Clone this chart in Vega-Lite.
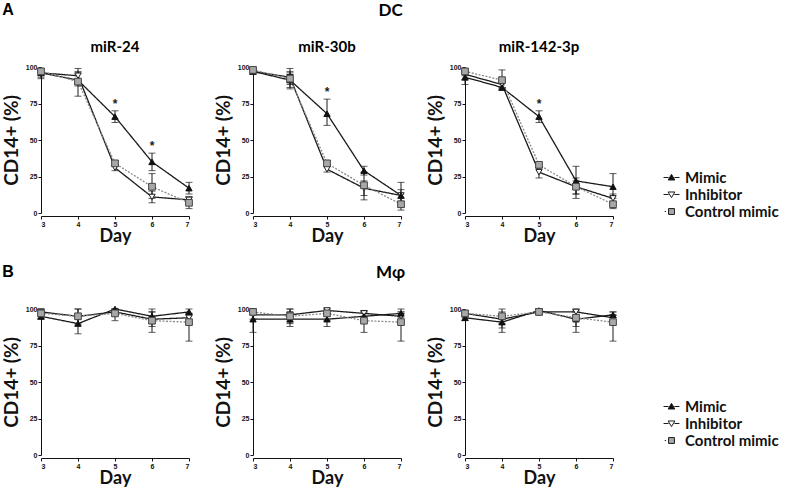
{
  "$schema": "https://vega.github.io/schema/vega-lite/v6.json",
  "padding": {"left": 2, "top": 2, "right": 0, "bottom": 0},
  "datasets": {
    "d": [
      {"cell":"DC","mir":"miR-24","series":"Mimic","day":3,"v":96,"lo":93,"hi":99,"sig":false},
      {"cell":"DC","mir":"miR-24","series":"Mimic","day":4,"v":91,"lo":87,"hi":97,"sig":false},
      {"cell":"DC","mir":"miR-24","series":"Mimic","day":5,"v":66,"lo":62,"hi":70,"sig":true},
      {"cell":"DC","mir":"miR-24","series":"Mimic","day":6,"v":35,"lo":29,"hi":41,"sig":true},
      {"cell":"DC","mir":"miR-24","series":"Mimic","day":7,"v":17,"lo":13,"hi":21,"sig":false},
      {"cell":"DC","mir":"miR-24","series":"Inhibitor","day":3,"v":96,"lo":92,"hi":99,"sig":false},
      {"cell":"DC","mir":"miR-24","series":"Inhibitor","day":4,"v":94,"lo":88,"hi":99,"sig":false},
      {"cell":"DC","mir":"miR-24","series":"Inhibitor","day":5,"v":31,"lo":29,"hi":33,"sig":false},
      {"cell":"DC","mir":"miR-24","series":"Inhibitor","day":6,"v":11,"lo":7,"hi":15,"sig":false},
      {"cell":"DC","mir":"miR-24","series":"Inhibitor","day":7,"v":9,"lo":7,"hi":11,"sig":false},
      {"cell":"DC","mir":"miR-24","series":"Control mimic","day":3,"v":97,"lo":94,"hi":99,"sig":false},
      {"cell":"DC","mir":"miR-24","series":"Control mimic","day":4,"v":90,"lo":80,"hi":96,"sig":false},
      {"cell":"DC","mir":"miR-24","series":"Control mimic","day":5,"v":34,"lo":32,"hi":36,"sig":false},
      {"cell":"DC","mir":"miR-24","series":"Control mimic","day":6,"v":18,"lo":10,"hi":27,"sig":false},
      {"cell":"DC","mir":"miR-24","series":"Control mimic","day":7,"v":7,"lo":3,"hi":11,"sig":false},

      {"cell":"DC","mir":"miR-30b","series":"Mimic","day":3,"v":97,"lo":95,"hi":99,"sig":false},
      {"cell":"DC","mir":"miR-30b","series":"Mimic","day":4,"v":91,"lo":86,"hi":96,"sig":false},
      {"cell":"DC","mir":"miR-30b","series":"Mimic","day":5,"v":68,"lo":60,"hi":78,"sig":true},
      {"cell":"DC","mir":"miR-30b","series":"Mimic","day":6,"v":29,"lo":26,"hi":32,"sig":false},
      {"cell":"DC","mir":"miR-30b","series":"Mimic","day":7,"v":12,"lo":4,"hi":21,"sig":false},
      {"cell":"DC","mir":"miR-30b","series":"Inhibitor","day":3,"v":97,"lo":95,"hi":99,"sig":false},
      {"cell":"DC","mir":"miR-30b","series":"Inhibitor","day":4,"v":93,"lo":88,"hi":99,"sig":false},
      {"cell":"DC","mir":"miR-30b","series":"Inhibitor","day":5,"v":30,"lo":28,"hi":32,"sig":false},
      {"cell":"DC","mir":"miR-30b","series":"Inhibitor","day":6,"v":17,"lo":12,"hi":22,"sig":false},
      {"cell":"DC","mir":"miR-30b","series":"Inhibitor","day":7,"v":12,"lo":8,"hi":16,"sig":false},
      {"cell":"DC","mir":"miR-30b","series":"Control mimic","day":3,"v":98,"lo":96,"hi":100,"sig":false},
      {"cell":"DC","mir":"miR-30b","series":"Control mimic","day":4,"v":92,"lo":85,"hi":97,"sig":false},
      {"cell":"DC","mir":"miR-30b","series":"Control mimic","day":5,"v":34,"lo":32,"hi":36,"sig":false},
      {"cell":"DC","mir":"miR-30b","series":"Control mimic","day":6,"v":19,"lo":9,"hi":28,"sig":false},
      {"cell":"DC","mir":"miR-30b","series":"Control mimic","day":7,"v":6,"lo":2,"hi":10,"sig":false},

      {"cell":"DC","mir":"miR-142-3p","series":"Mimic","day":3,"v":93,"lo":88,"hi":97,"sig":false},
      {"cell":"DC","mir":"miR-142-3p","series":"Mimic","day":4,"v":86,"lo":84,"hi":89,"sig":false},
      {"cell":"DC","mir":"miR-142-3p","series":"Mimic","day":5,"v":66,"lo":62,"hi":70,"sig":true},
      {"cell":"DC","mir":"miR-142-3p","series":"Mimic","day":6,"v":22,"lo":13,"hi":32,"sig":false},
      {"cell":"DC","mir":"miR-142-3p","series":"Mimic","day":7,"v":18,"lo":8,"hi":27,"sig":false},
      {"cell":"DC","mir":"miR-142-3p","series":"Inhibitor","day":3,"v":95,"lo":91,"hi":98,"sig":false},
      {"cell":"DC","mir":"miR-142-3p","series":"Inhibitor","day":4,"v":88,"lo":86,"hi":91,"sig":false},
      {"cell":"DC","mir":"miR-142-3p","series":"Inhibitor","day":5,"v":28,"lo":24,"hi":31,"sig":false},
      {"cell":"DC","mir":"miR-142-3p","series":"Inhibitor","day":6,"v":18,"lo":13,"hi":22,"sig":false},
      {"cell":"DC","mir":"miR-142-3p","series":"Inhibitor","day":7,"v":10,"lo":7,"hi":13,"sig":false},
      {"cell":"DC","mir":"miR-142-3p","series":"Control mimic","day":3,"v":97,"lo":94,"hi":99,"sig":false},
      {"cell":"DC","mir":"miR-142-3p","series":"Control mimic","day":4,"v":91,"lo":85,"hi":98,"sig":false},
      {"cell":"DC","mir":"miR-142-3p","series":"Control mimic","day":5,"v":33,"lo":31,"hi":35,"sig":false},
      {"cell":"DC","mir":"miR-142-3p","series":"Control mimic","day":6,"v":18,"lo":10,"hi":24,"sig":false},
      {"cell":"DC","mir":"miR-142-3p","series":"Control mimic","day":7,"v":6,"lo":3,"hi":10,"sig":false},

      {"cell":"Mφ","mir":"miR-24","series":"Mimic","day":3,"v":95,"lo":93,"hi":98,"sig":false},
      {"cell":"Mφ","mir":"miR-24","series":"Mimic","day":4,"v":90,"lo":83,"hi":96,"sig":false},
      {"cell":"Mφ","mir":"miR-24","series":"Mimic","day":5,"v":100,"lo":98,"hi":100,"sig":false},
      {"cell":"Mφ","mir":"miR-24","series":"Mimic","day":6,"v":95,"lo":90,"hi":100,"sig":false},
      {"cell":"Mφ","mir":"miR-24","series":"Mimic","day":7,"v":98,"lo":96,"hi":100,"sig":false},
      {"cell":"Mφ","mir":"miR-24","series":"Inhibitor","day":3,"v":98,"lo":96,"hi":100,"sig":false},
      {"cell":"Mφ","mir":"miR-24","series":"Inhibitor","day":4,"v":95,"lo":90,"hi":100,"sig":false},
      {"cell":"Mφ","mir":"miR-24","series":"Inhibitor","day":5,"v":98,"lo":96,"hi":100,"sig":false},
      {"cell":"Mφ","mir":"miR-24","series":"Inhibitor","day":6,"v":93,"lo":88,"hi":98,"sig":false},
      {"cell":"Mφ","mir":"miR-24","series":"Inhibitor","day":7,"v":94,"lo":90,"hi":97,"sig":false},
      {"cell":"Mφ","mir":"miR-24","series":"Control mimic","day":3,"v":97,"lo":93,"hi":100,"sig":false},
      {"cell":"Mφ","mir":"miR-24","series":"Control mimic","day":4,"v":95,"lo":89,"hi":100,"sig":false},
      {"cell":"Mφ","mir":"miR-24","series":"Control mimic","day":5,"v":97,"lo":92,"hi":100,"sig":false},
      {"cell":"Mφ","mir":"miR-24","series":"Control mimic","day":6,"v":92,"lo":84,"hi":98,"sig":false},
      {"cell":"Mφ","mir":"miR-24","series":"Control mimic","day":7,"v":91,"lo":78,"hi":97,"sig":false},

      {"cell":"Mφ","mir":"miR-30b","series":"Mimic","day":3,"v":93,"lo":84,"hi":100,"sig":false},
      {"cell":"Mφ","mir":"miR-30b","series":"Mimic","day":4,"v":93,"lo":88,"hi":98,"sig":false},
      {"cell":"Mφ","mir":"miR-30b","series":"Mimic","day":5,"v":93,"lo":88,"hi":97,"sig":false},
      {"cell":"Mφ","mir":"miR-30b","series":"Mimic","day":6,"v":95,"lo":92,"hi":98,"sig":false},
      {"cell":"Mφ","mir":"miR-30b","series":"Mimic","day":7,"v":97,"lo":94,"hi":100,"sig":false},
      {"cell":"Mφ","mir":"miR-30b","series":"Inhibitor","day":3,"v":96,"lo":93,"hi":99,"sig":false},
      {"cell":"Mφ","mir":"miR-30b","series":"Inhibitor","day":4,"v":96,"lo":91,"hi":100,"sig":false},
      {"cell":"Mφ","mir":"miR-30b","series":"Inhibitor","day":5,"v":99,"lo":97,"hi":100,"sig":false},
      {"cell":"Mφ","mir":"miR-30b","series":"Inhibitor","day":6,"v":97,"lo":95,"hi":99,"sig":false},
      {"cell":"Mφ","mir":"miR-30b","series":"Inhibitor","day":7,"v":95,"lo":92,"hi":98,"sig":false},
      {"cell":"Mφ","mir":"miR-30b","series":"Control mimic","day":3,"v":98,"lo":96,"hi":100,"sig":false},
      {"cell":"Mφ","mir":"miR-30b","series":"Control mimic","day":4,"v":95,"lo":90,"hi":100,"sig":false},
      {"cell":"Mφ","mir":"miR-30b","series":"Control mimic","day":5,"v":97,"lo":92,"hi":100,"sig":false},
      {"cell":"Mφ","mir":"miR-30b","series":"Control mimic","day":6,"v":92,"lo":84,"hi":98,"sig":false},
      {"cell":"Mφ","mir":"miR-30b","series":"Control mimic","day":7,"v":91,"lo":78,"hi":98,"sig":false},

      {"cell":"Mφ","mir":"miR-142-3p","series":"Mimic","day":3,"v":94,"lo":92,"hi":97,"sig":false},
      {"cell":"Mφ","mir":"miR-142-3p","series":"Mimic","day":4,"v":91,"lo":84,"hi":95,"sig":false},
      {"cell":"Mφ","mir":"miR-142-3p","series":"Mimic","day":5,"v":99,"lo":97,"hi":100,"sig":false},
      {"cell":"Mφ","mir":"miR-142-3p","series":"Mimic","day":6,"v":93,"lo":88,"hi":98,"sig":false},
      {"cell":"Mφ","mir":"miR-142-3p","series":"Mimic","day":7,"v":96,"lo":94,"hi":98,"sig":false},
      {"cell":"Mφ","mir":"miR-142-3p","series":"Inhibitor","day":3,"v":97,"lo":95,"hi":99,"sig":false},
      {"cell":"Mφ","mir":"miR-142-3p","series":"Inhibitor","day":4,"v":93,"lo":87,"hi":98,"sig":false},
      {"cell":"Mφ","mir":"miR-142-3p","series":"Inhibitor","day":5,"v":98,"lo":96,"hi":100,"sig":false},
      {"cell":"Mφ","mir":"miR-142-3p","series":"Inhibitor","day":6,"v":98,"lo":96,"hi":100,"sig":false},
      {"cell":"Mφ","mir":"miR-142-3p","series":"Inhibitor","day":7,"v":94,"lo":92,"hi":96,"sig":false},
      {"cell":"Mφ","mir":"miR-142-3p","series":"Control mimic","day":3,"v":97,"lo":94,"hi":99,"sig":false},
      {"cell":"Mφ","mir":"miR-142-3p","series":"Control mimic","day":4,"v":95,"lo":90,"hi":100,"sig":false},
      {"cell":"Mφ","mir":"miR-142-3p","series":"Control mimic","day":5,"v":98,"lo":96,"hi":100,"sig":false},
      {"cell":"Mφ","mir":"miR-142-3p","series":"Control mimic","day":6,"v":94,"lo":84,"hi":99,"sig":false},
      {"cell":"Mφ","mir":"miR-142-3p","series":"Control mimic","day":7,"v":91,"lo":78,"hi":98,"sig":false}
    ]
  },
  "spacing": 19,
  "resolve": {"scale": {"shape": "independent", "fill": "independent", "color": "independent", "strokeDash": "independent"}, "legend": {"shape": "independent", "fill": "independent"}},
  "vconcat": [
    {
      "title": {"text": "A", "anchor": "start", "frame": "bounds", "font": "Liberation Sans", "fontSize": 16, "fontWeight": "bold", "offset": -16},
      "resolve": {"scale": {"shape": "independent", "fill": "independent", "color": "independent", "strokeDash": "independent"}, "legend": {"shape": "independent", "fill": "independent"}},
      "vconcat": [
        {
          "title": {"text": "DC", "anchor": "middle", "font": "Lato", "fontSize": 17, "fontWeight": "bold", "offset": 20},
          "data": {"name": "d"},
          "transform": [{"filter": "datum.cell == 'DC'"}],
          "facet": {"column": {"field": "mir", "type": "nominal", "sort": ["miR-24", "miR-30b", "miR-142-3p"],
            "header": {"title": null, "labelFont": "Lato", "labelFontSize": 15, "labelFontWeight": "bold", "labelColor": "black", "labelPadding": 8}}},
          "spacing": {"column": 19},
          "resolve": {"axis": {"y": "independent"}},
          "spec": {
            "width": 148, "height": 146,
            "layer": [
              {"mark": {"type": "line", "strokeWidth": 1.3},
               "encoding": {
                 "x": {"field": "day", "type": "quantitative", "scale": {"domain": [3, 7], "nice": false}, "axis": {"title": "Day", "values": [3,4,5,6,7], "tickCount": 5, "format": "d"}},
                 "y": {"field": "v", "type": "quantitative", "scale": {"domain": [0, 100], "nice": false}, "axis": {"title": "CD14+ (%)", "values": [0,25,50,75,100], "tickCount": 5}},
                 "detail": {"field": "series", "type": "nominal"},
                 "color": {"field": "series", "type": "nominal", "scale": {"domain": ["Control mimic","Inhibitor","Mimic"], "range": ["#8a8a8a","#1a1a1a","#1a1a1a"]}, "legend": null},
                 "strokeDash": {"field": "series", "type": "nominal", "scale": {"domain": ["Control mimic","Inhibitor","Mimic"], "range": [[2,1.5],[1,0],[1,0]]}, "legend": null}
               }},
              {"mark": {"type": "rule", "color": "#1a1a1a", "strokeWidth": 1},
               "encoding": {"x": {"field": "day", "type": "quantitative"}, "y": {"field": "lo", "type": "quantitative"}, "y2": {"field": "hi"}}},
              {"mark": {"type": "tick", "orient": "horizontal", "size": 7, "thickness": 1, "color": "#1a1a1a"},
               "encoding": {"x": {"field": "day", "type": "quantitative"}, "y": {"field": "lo", "type": "quantitative"}}},
              {"mark": {"type": "tick", "orient": "horizontal", "size": 7, "thickness": 1, "color": "#1a1a1a"},
               "encoding": {"x": {"field": "day", "type": "quantitative"}, "y": {"field": "hi", "type": "quantitative"}}},
              {"transform": [{"filter": "datum.series == 'Inhibitor'"}],
               "mark": {"type": "point", "shape": "triangle-down", "filled": true, "fill": "white", "stroke": "#1a1a1a", "strokeWidth": 1, "size": 40, "opacity": 1},
               "encoding": {"x": {"field": "day", "type": "quantitative"}, "y": {"field": "v", "type": "quantitative"}}},
              {"transform": [{"filter": "datum.series == 'Mimic'"}],
               "mark": {"type": "point", "shape": "triangle-up", "filled": true, "fill": "#111", "stroke": "#111", "strokeWidth": 1, "size": 40, "opacity": 1},
               "encoding": {"x": {"field": "day", "type": "quantitative"}, "y": {"field": "v", "type": "quantitative"}}},
              {"transform": [{"filter": "datum.series == 'Control mimic'"}],
               "mark": {"type": "point", "shape": "square", "filled": true, "fill": "#a8a8a8", "stroke": "#444", "strokeWidth": 1, "size": 45, "opacity": 1},
               "encoding": {"x": {"field": "day", "type": "quantitative"}, "y": {"field": "v", "type": "quantitative"}}},
              {"transform": [{"filter": "datum.sig"}],
               "mark": {"type": "text", "text": "*", "dy": -7, "fontSize": 12, "font": "Liberation Sans", "fontWeight": "bold", "color": "#1a1a1a"},
               "encoding": {"x": {"field": "day", "type": "quantitative"}, "y": {"field": "hi", "type": "quantitative"}}},
              {"mark": {"type": "point", "filled": true, "stroke": "#1a1a1a", "strokeWidth": 1, "opacity": 0},
               "encoding": {
                 "x": {"field": "day", "type": "quantitative"}, "y": {"field": "v", "type": "quantitative"},
                 "shape": {"field": "series", "type": "nominal", "scale": {"domain": ["Mimic","Inhibitor","Control mimic"], "range": ["M-1.9,0H-0.7M0.7,0H1.9M0,-0.75L0.8,0.6H-0.8Z", "M-1.9,0H-0.7M0.7,0H1.9M0,0.75L0.8,-0.6H-0.8Z", "M-1.6,0H-1.3M-0.7,-0.7H0.7V0.7H-0.7Z"]},
                   "legend": {"title": " ", "titleFontSize": 2, "titlePadding": 101, "orient": "right", "offset": 45, "symbolOpacity": 1,
                     "encode": {"symbols": {"update": {"stroke": {"value": "#1a1a1a"}, "strokeWidth": {"value": 1}, "opacity": {"value": 1}}}}}},
                 "fill": {"field": "series", "type": "nominal", "scale": {"domain": ["Mimic","Inhibitor","Control mimic"], "range": ["#111","#ffffff","#a8a8a8"]},
                   "legend": {"title": " ", "titleFontSize": 2, "titlePadding": 101, "orient": "right", "offset": 45, "symbolOpacity": 1,
                     "encode": {"symbols": {"update": {"stroke": {"value": "#1a1a1a"}, "strokeWidth": {"value": 1}, "opacity": {"value": 1}}}}}}
               }}
            ]
          }
        }
      ]
    },
    {
      "title": {"text": "B", "anchor": "start", "frame": "bounds", "font": "Liberation Sans", "fontSize": 16, "fontWeight": "bold", "offset": -16},
      "resolve": {"scale": {"shape": "independent", "fill": "independent", "color": "independent", "strokeDash": "independent"}, "legend": {"shape": "independent", "fill": "independent"}},
      "vconcat": [
        {
          "title": {"text": "Mφ", "anchor": "middle", "font": "Lato", "fontSize": 17, "fontWeight": "bold", "offset": 22},
          "data": {"name": "d"},
          "transform": [{"filter": "datum.cell == 'Mφ'"}],
          "facet": {"column": {"field": "mir", "type": "nominal", "sort": ["miR-24", "miR-30b", "miR-142-3p"],
            "header": {"title": null, "labels": false}}},
          "spacing": {"column": 19},
          "resolve": {"axis": {"y": "independent"}},
          "spec": {
            "width": 148, "height": 146,
            "layer": [
              {"mark": {"type": "line", "strokeWidth": 1.3},
               "encoding": {
                 "x": {"field": "day", "type": "quantitative", "scale": {"domain": [3, 7], "nice": false}, "axis": {"title": "Day", "values": [3,4,5,6,7], "tickCount": 5, "format": "d"}},
                 "y": {"field": "v", "type": "quantitative", "scale": {"domain": [0, 100], "nice": false}, "axis": {"title": "CD14+ (%)", "values": [0,25,50,75,100], "tickCount": 5}},
                 "detail": {"field": "series", "type": "nominal"},
                 "color": {"field": "series", "type": "nominal", "scale": {"domain": ["Control mimic","Inhibitor","Mimic"], "range": ["#8a8a8a","#1a1a1a","#1a1a1a"]}, "legend": null},
                 "strokeDash": {"field": "series", "type": "nominal", "scale": {"domain": ["Control mimic","Inhibitor","Mimic"], "range": [[2,1.5],[1,0],[1,0]]}, "legend": null}
               }},
              {"mark": {"type": "rule", "color": "#1a1a1a", "strokeWidth": 1},
               "encoding": {"x": {"field": "day", "type": "quantitative"}, "y": {"field": "lo", "type": "quantitative"}, "y2": {"field": "hi"}}},
              {"mark": {"type": "tick", "orient": "horizontal", "size": 7, "thickness": 1, "color": "#1a1a1a"},
               "encoding": {"x": {"field": "day", "type": "quantitative"}, "y": {"field": "lo", "type": "quantitative"}}},
              {"mark": {"type": "tick", "orient": "horizontal", "size": 7, "thickness": 1, "color": "#1a1a1a"},
               "encoding": {"x": {"field": "day", "type": "quantitative"}, "y": {"field": "hi", "type": "quantitative"}}},
              {"transform": [{"filter": "datum.series == 'Inhibitor'"}],
               "mark": {"type": "point", "shape": "triangle-down", "filled": true, "fill": "white", "stroke": "#1a1a1a", "strokeWidth": 1, "size": 40, "opacity": 1},
               "encoding": {"x": {"field": "day", "type": "quantitative"}, "y": {"field": "v", "type": "quantitative"}}},
              {"transform": [{"filter": "datum.series == 'Mimic'"}],
               "mark": {"type": "point", "shape": "triangle-up", "filled": true, "fill": "#111", "stroke": "#111", "strokeWidth": 1, "size": 40, "opacity": 1},
               "encoding": {"x": {"field": "day", "type": "quantitative"}, "y": {"field": "v", "type": "quantitative"}}},
              {"transform": [{"filter": "datum.series == 'Control mimic'"}],
               "mark": {"type": "point", "shape": "square", "filled": true, "fill": "#a8a8a8", "stroke": "#444", "strokeWidth": 1, "size": 45, "opacity": 1},
               "encoding": {"x": {"field": "day", "type": "quantitative"}, "y": {"field": "v", "type": "quantitative"}}},
              {"mark": {"type": "point", "filled": true, "stroke": "#1a1a1a", "strokeWidth": 1, "opacity": 0},
               "encoding": {
                 "x": {"field": "day", "type": "quantitative"}, "y": {"field": "v", "type": "quantitative"},
                 "shape": {"field": "series", "type": "nominal", "scale": {"domain": ["Mimic","Inhibitor","Control mimic"], "range": ["M-1.9,0H-0.7M0.7,0H1.9M0,-0.75L0.8,0.6H-0.8Z", "M-1.9,0H-0.7M0.7,0H1.9M0,0.75L0.8,-0.6H-0.8Z", "M-1.6,0H-1.3M-0.7,-0.7H0.7V0.7H-0.7Z"]},
                   "legend": {"title": " ", "titleFontSize": 2, "titlePadding": 88, "orient": "right", "offset": 45, "symbolOpacity": 1,
                     "encode": {"symbols": {"update": {"stroke": {"value": "#1a1a1a"}, "strokeWidth": {"value": 1}, "opacity": {"value": 1}}}}}},
                 "fill": {"field": "series", "type": "nominal", "scale": {"domain": ["Mimic","Inhibitor","Control mimic"], "range": ["#111","#ffffff","#a8a8a8"]},
                   "legend": {"title": " ", "titleFontSize": 2, "titlePadding": 88, "orient": "right", "offset": 45, "symbolOpacity": 1,
                     "encode": {"symbols": {"update": {"stroke": {"value": "#1a1a1a"}, "strokeWidth": {"value": 1}, "opacity": {"value": 1}}}}}}
               }}
            ]
          }
        }
      ]
    }
  ],
  "config": {
    "view": {"stroke": null},
    "axis": {"grid": false, "domainColor": "#111", "tickColor": "#111", "tickSize": 3, "labelFont": "Liberation Sans", "labelFontSize": 7, "labelFontWeight": "bold", "labelColor": "#111", "labelPadding": 1, "labelOverlap": false, "labelBound": false, "titleFont": "Lato", "titleFontSize": 18, "titleFontWeight": "bold", "titleColor": "#111"},
    "axisX": {"titlePadding": 0},
    "axisY": {"titlePadding": 4, "titleFontSize": 19},
    "legend": {"labelFont": "Lato", "labelFontSize": 15, "labelFontWeight": "bold", "labelColor": "#111", "symbolSize": 70, "symbolStrokeColor": "#1a1a1a", "symbolStrokeWidth": 1, "rowPadding": 1, "labelOffset": 6}
  }
}
